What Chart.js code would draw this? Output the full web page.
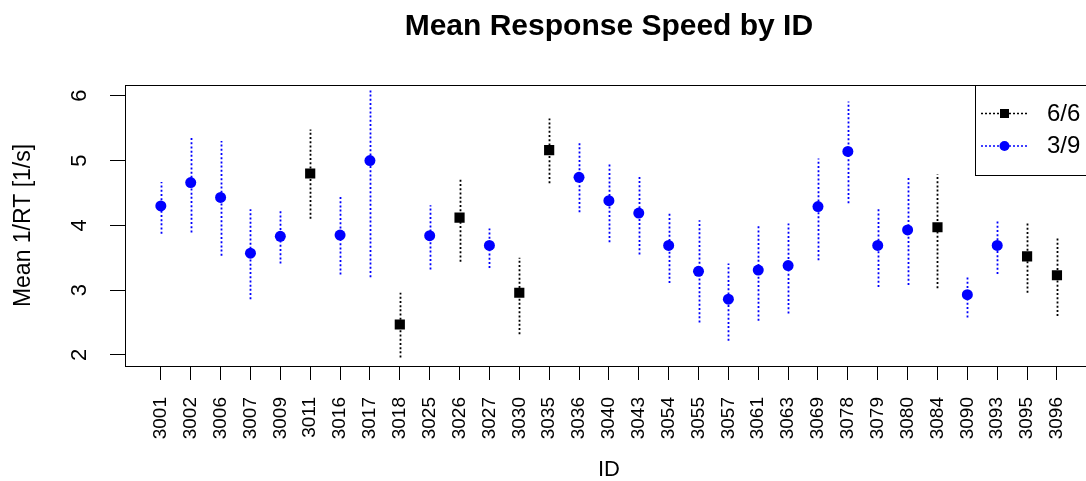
<!DOCTYPE html>
<html>
<head>
<meta charset="utf-8">
<title>Mean Response Speed by ID</title>
<script src="https://cdn.jsdelivr.net/npm/chart.js@4"></script>
<style>
  html, body { margin: 0; padding: 0; background: #fff; overflow: hidden; }
  #wrap { width: 1100px; height: 481px; }
</style>
</head>
<body>
<div id="wrap"><canvas id="speedChart" width="1100" height="481"></canvas></div>
<script>
'use strict'

//++++++++++++++ Data ++++++++++++++//
let ids = ['3001', '3002', '3006', '3007', '3009', '3011', '3016', '3017', '3018', '3025',
  '3026', '3027', '3030', '3035', '3036', '3040', '3043', '3054', '3055', '3057',
  '3061', '3063', '3069', '3078', '3079', '3080', '3084', '3090', '3093', '3095', '3096'];
let meanSpeed = [4.30, 4.66, 4.43, 3.57, 3.83, 4.80, 3.85, 5.00, 2.47, 3.84,
  4.12, 3.69, 2.96, 5.16, 4.74, 4.38, 4.19, 3.69, 3.29, 2.86,
  3.31, 3.38, 4.29, 5.14, 3.69, 3.93, 3.97, 2.93, 3.69, 3.52, 3.23];
let ciLower = [3.87, 3.89, 3.53, 2.86, 3.41, 4.10, 3.24, 3.20, 1.96, 3.32,
  3.44, 3.34, 2.32, 4.65, 4.20, 3.74, 3.55, 3.11, 2.50, 2.22,
  2.53, 2.64, 3.46, 4.34, 3.05, 3.08, 3.03, 2.58, 3.25, 2.96, 2.60];
let ciUpper = [4.67, 5.37, 5.30, 4.25, 4.22, 5.48, 4.44, 6.10, 2.96, 4.31,
  4.72, 3.95, 3.50, 5.65, 5.30, 4.94, 4.75, 4.20, 4.08, 3.41,
  4.01, 4.03, 5.03, 5.91, 4.25, 4.75, 4.79, 3.20, 4.06, 4.06, 3.80];
let groups = ['3/9', '3/9', '3/9', '3/9', '3/9', '6/6', '3/9', '3/9', '6/6', '3/9',
  '6/6', '3/9', '6/6', '6/6', '3/9', '3/9', '3/9', '3/9', '3/9', '3/9',
  '3/9', '3/9', '3/9', '3/9', '3/9', '3/9', '6/6', '3/9', '3/9', '6/6', '6/6'];
let groupNames = ['6/6', '3/9'];
let groupColors = ['#000000', '#0000ff'];
let groupShapes = ['rect', 'circle'];
let yTicks = [2, 3, 4, 5, 6];

const FONT = '"Liberation Sans", Arial, sans-serif';

//++++++++++++++ Build datasets ++++++++++++++//
function pointsFor(groupName) {
  let pts = [];
  for (let i = 0; i < ids.length; i++) {
    if (groups[i] === groupName) {
      pts.push({ x: i + 1, y: meanSpeed[i] });
    }
  }
  return pts;
}

let datasets = groupNames.map((g, k) => ({
  label: g,
  data: pointsFor(g),
  pointStyle: groupShapes[k],
  pointRadius: groupShapes[k] === 'rect' ? 7.2 : 5.5,
  pointBackgroundColor: groupColors[k],
  pointBorderColor: groupColors[k],
  pointBorderWidth: 0,
  showLine: false
}));

//++++++++++++++ Plugins ++++++++++++++//
// dotted error bars, behind the points
const errorBars = {
  id: 'errorBars',
  beforeDatasetsDraw(chart) {
    const ctx = chart.ctx;
    const xs = chart.scales.x;
    const ys = chart.scales.y;
    ctx.save();
    ctx.lineWidth = 1.8;
    ctx.setLineDash([2, 2.2]);
    for (let i = 0; i < ids.length; i++) {
      let x = Math.round(xs.getPixelForValue(i + 1)) + 0.5;
      ctx.strokeStyle = groupColors[groupNames.indexOf(groups[i])];
      ctx.beginPath();
      ctx.moveTo(x, ys.getPixelForValue(ciLower[i]));
      ctx.lineTo(x, ys.getPixelForValue(ciUpper[i]));
      ctx.stroke();
    }
    ctx.restore();
  }
};

// box, rotated y tick labels, legend
const frame = {
  id: 'frame',
  afterDraw(chart) {
    const ctx = chart.ctx;
    const a = chart.chartArea;
    const ys = chart.scales.y;
    ctx.save();
    ctx.strokeStyle = '#000';
    ctx.lineWidth = 1;
    ctx.strokeRect(Math.round(a.left) + 0.5, Math.round(a.top) + 0.5,
      Math.round(a.right - a.left), Math.round(a.bottom - a.top));

    // y tick labels, parallel to the axis
    ctx.fillStyle = '#000';
    ctx.font = '22px ' + FONT;
    ctx.textAlign = 'center';
    ctx.textBaseline = 'middle';
    yTicks.forEach(v => {
      ctx.save();
      ctx.translate(80, ys.getPixelForValue(v));
      ctx.rotate(-Math.PI / 2);
      ctx.fillText(String(v), 0, 0);
      ctx.restore();
    });

    // legend (top right, inside the plot)
    let lx = 975, ly = Math.round(a.top) + 0.5;
    ctx.fillStyle = '#fff';
    ctx.fillRect(lx, ly, Math.round(a.right) - lx, 90);
    ctx.strokeRect(lx + 0.5, ly, Math.round(a.right) - lx, 90);
    ctx.font = '24px ' + FONT;
    ctx.textAlign = 'left';
    groupNames.forEach((g, k) => {
      let y = Math.round(a.top) + 28 + k * 32.5;
      ctx.strokeStyle = groupColors[k];
      ctx.fillStyle = groupColors[k];
      ctx.lineWidth = 1.5;
      ctx.setLineDash([2, 2]);
      ctx.beginPath();
      ctx.moveTo(981, y + 0.5);
      ctx.lineTo(1028, y + 0.5);
      ctx.stroke();
      ctx.setLineDash([]);
      if (groupShapes[k] === 'rect') {
        ctx.fillRect(1000, y - 4, 9, 9);
      } else {
        ctx.beginPath();
        ctx.arc(1004.5, y + 0.5, 5, 0, Math.PI * 2);
        ctx.fill();
      }
      ctx.fillStyle = '#000';
      ctx.fillText(g, 1047, y + 1);
    });
    ctx.restore();
  }
};

//++++++++++++++ Chart ++++++++++++++//
const ctx = document.getElementById('speedChart').getContext('2d');
const speedChart = new Chart(ctx, {
  type: 'scatter',
  data: { datasets: datasets },
  plugins: [errorBars, frame],
  options: {
    responsive: false,
    animation: false,
    layout: { padding: { left: 0, right: 7, top: 0, bottom: 0 } },
    plugins: {
      legend: { display: false },
      tooltip: { enabled: false },
      title: {
        display: true,
        text: 'Mean Response Speed by ID',
        fullSize: false,
        color: '#000',
        font: { family: FONT, size: 30, weight: 'bold', lineHeight: 1.2 },
        padding: { top: 9, bottom: 40 }
      }
    },
    scales: {
      x: {
        type: 'linear',
        min: -0.2,
        max: ids.length + 1.2,
        afterBuildTicks: s => { s.ticks = ids.map((id, i) => ({ value: i + 1 })); },
        afterFit: s => { s.height = 115; },
        border: { display: false },
        grid: { display: true, drawOnChartArea: false, drawTicks: true, tickLength: 14, color: '#000', lineWidth: 1 },
        ticks: {
          autoSkip: false,
          minRotation: 90,
          maxRotation: 90,
          padding: 17,
          color: '#000',
          font: { family: FONT, size: 19 },
          callback: v => ids[v - 1] || ''
        },
        title: {
          display: true,
          text: 'ID',
          color: '#000',
          font: { family: FONT, size: 22, lineHeight: 1 },
          padding: { top: 0, bottom: 0 }
        }
      },
      y: {
        min: 1.83,
        max: 6.165,
        afterBuildTicks: s => { s.ticks = yTicks.map(v => ({ value: v })); },
        afterFit: s => { s.width = 125; },
        border: { display: false },
        grid: { display: true, drawOnChartArea: false, drawTicks: true, tickLength: 15, color: '#000', lineWidth: 1 },
        ticks: { display: false },
        title: {
          display: true,
          text: 'Mean 1/RT [1/s]',
          color: '#000',
          font: { family: FONT, size: 23, lineHeight: 1.2 },
          padding: { top: 10, bottom: 0 }
        }
      }
    }
  }
});
</script>
</body>
</html>
